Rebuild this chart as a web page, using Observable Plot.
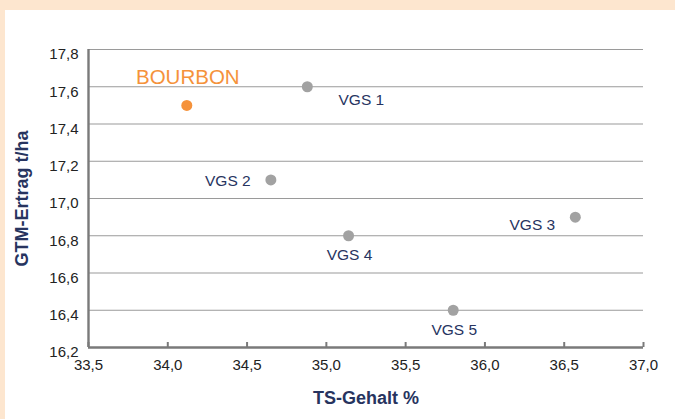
<!DOCTYPE html>
<html>
<head>
<meta charset="utf-8">
<script src="https://cdn.jsdelivr.net/npm/d3@7"></script>
<script src="https://cdn.jsdelivr.net/npm/@observablehq/plot@0.6"></script>
<style>
  html, body { margin: 0; padding: 0; background: #fde6cf; width: 675px; height: 419px; overflow: hidden; }
  #panel { position: absolute; left: 5px; top: 10px; width: 670px; height: 409px; background: #ffffff; }
  #panel svg { display: block; font-family: "Liberation Sans", Arial, Helvetica, sans-serif; }
</style>
</head>
<body>
<div id="panel"></div>
<script>
const names = ["BOURBON", "VGS 1", "VGS 2", "VGS 3", "VGS 4", "VGS 5"];
const tsGehalt = [34.12, 34.88, 34.65, 36.57, 35.14, 35.80];
const gtmErtrag = [17.50, 17.60, 17.10, 16.90, 16.80, 16.40];
const xTicks = [33.5, 34.0, 34.5, 35.0, 35.5, 36.0, 36.5, 37.0];
const yTicks = [16.2, 16.4, 16.6, 16.8, 17.0, 17.2, 17.4, 17.6, 17.8];
const xTitle = "TS-Gehalt %";
const yTitle = "GTM-Ertrag t/ha";

const data = names.map((n, i) => ({name: n, x: tsGehalt[i], y: gtmErtrag[i]}));
const fmt = d => d3.format(".1f")(d).replace(".", ",");
const navy = "#27345f";
const orange = "#f5923b";
const grayDot = "#a2a2a2";

function label(name, opts) {
  return Plot.text(data.filter(d => d.name === name), Object.assign({
    x: "x", y: "y", text: "name", fill: navy, fontSize: 15.5
  }, opts));
}

const W = 670, H = 409;
const mLeft = 83, mRight = 32, mTop = 39, mBottom = 72;

const chart = Plot.plot({
  width: W,
  height: H,
  marginLeft: mLeft,
  marginRight: mRight,
  marginTop: mTop,
  marginBottom: mBottom,
  style: {background: "transparent", fontFamily: "'Liberation Sans', Arial, Helvetica, sans-serif"},
  x: {domain: [33.5, 37.0]},
  y: {domain: [16.2, 17.8]},
  marks: [
    Plot.ruleY(yTicks.slice(1), {stroke: "#9a9a9a", strokeWidth: 1.2}),
    Plot.tickX(xTicks, {x: d => d, stroke: "#7a7a7a", strokeWidth: 2, insetTop: H - mTop - mBottom - 5}),
    Plot.ruleY([16.2], {stroke: "#7a7a7a", strokeWidth: 2.4}),
    Plot.ruleX([33.5], {stroke: "#7a7a7a", strokeWidth: 2.4}),
    Plot.axisX(xTicks, {tickSize: 0, tickPadding: 12, tickFormat: fmt, fontSize: 15, fill: "#222", label: null}),
    Plot.axisY(yTicks, {tickSize: 0, tickPadding: 10, dy: 5, tickFormat: fmt, fontSize: 15, fill: "#222", label: null}),
    Plot.text([xTitle], {frameAnchor: "bottom", lineAnchor: "middle", dy: 51, text: d => d, fill: navy, fontSize: 18, fontWeight: "bold"}),
    Plot.text([yTitle], {frameAnchor: "left", textAnchor: "middle", lineAnchor: "middle", dx: -66, rotate: -90, text: d => d, fill: navy, fontSize: 18, fontWeight: "bold"}),
    Plot.dot(data, {x: "x", y: "y", r: 5.5, fill: d => d.name === "BOURBON" ? orange : grayDot, stroke: "none"}),
    label("BOURBON", {dx: 1, dy: -28, fill: orange, fontSize: 20.5}),
    label("VGS 1", {dx: 54, dy: 13}),
    label("VGS 2", {dx: -43, dy: 1}),
    label("VGS 3", {dx: -43, dy: 8}),
    label("VGS 4", {dx: 1, dy: 19}),
    label("VGS 5", {dx: 1, dy: 20})
  ]
});
document.getElementById("panel").appendChild(chart);
</script>
</body>
</html>
